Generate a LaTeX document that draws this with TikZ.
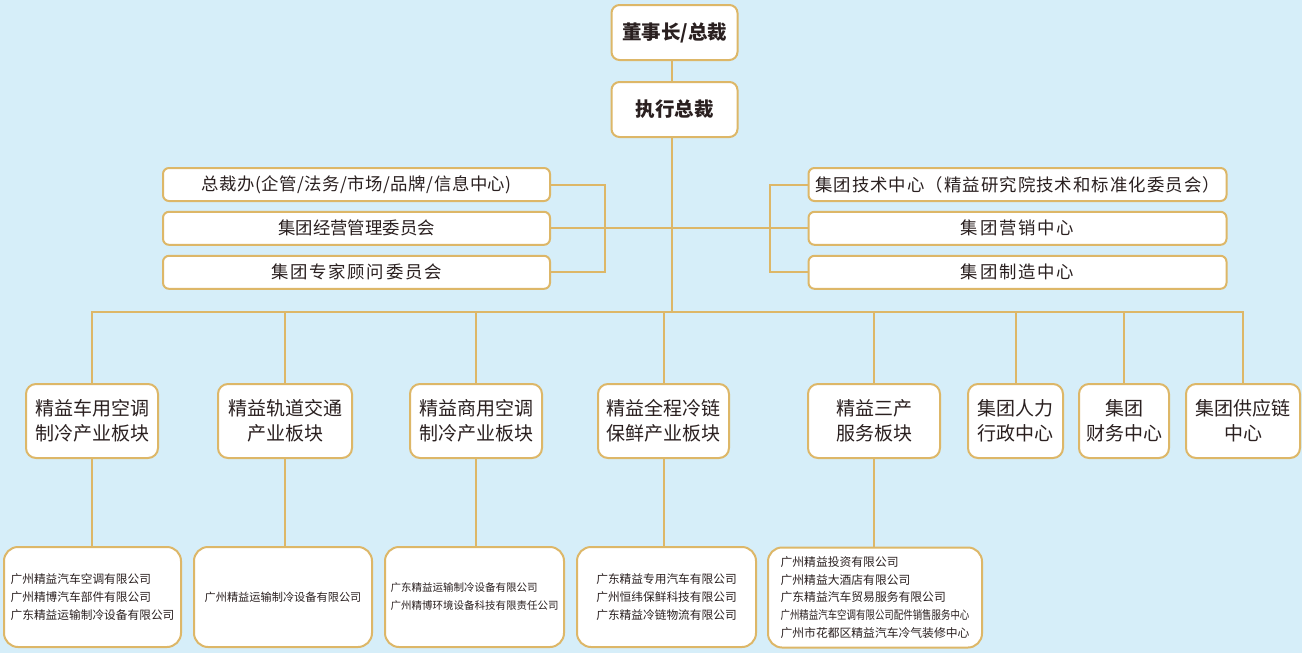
\documentclass[tikz,border=0pt]{standalone}
\usepackage{fontspec}
\usepackage{graphicx}
\setmainfont{Noto Sans CJK SC}
\definecolor{bg}{HTML}{D6EEF9}
\definecolor{gold}{HTML}{DDB768}
\definecolor{ink}{HTML}{2A2020}
\newcommand{\lsp}[2]{{\addfontfeature{LetterSpace=#1}#2}}
\begin{document}
\begin{tikzpicture}[x=1pt,y=-1pt,
  box/.style={draw=gold, line width=2pt, fill=white, inner sep=0pt, text=ink},
  topbox/.style={box, rounded corners=8pt, minimum width=126pt, minimum height=55pt, font=\fontsize{19.5}{23}\selectfont\bfseries},
  wide/.style={box, rounded corners=6pt, minimum height=33pt, font=\fontsize{17.4}{20}\selectfont},
  seg/.style={box, rounded corners=10pt, minimum height=74pt, align=center, font=\fontsize{19}{25}\selectfont},
  co/.style={box, rounded corners=14pt, minimum height=100pt, align=left, font=\fontsize{11.7}{18}\selectfont},
  link/.style={draw=gold, line width=2pt}]
\fill[bg] (0,0) rectangle (1302,653);
\useasboundingbox (0,0) rectangle (1302,653);

% top
\node[topbox] (chair) at (674.5,32.5) {董事长/总裁};
\node[topbox] (ceo) at (674.5,109.5) {执行总裁};

% left committees
\node[wide, minimum width=387pt] (l1) at (356.5,184.5) {\lsp{3}{总裁办(企管/法务/市场/品牌/信息中心)}};
\node[wide, minimum width=387pt] (l2) at (356.5,228.3) {集团经营管理委员会};
\node[wide, minimum width=387pt] (l3) at (356.5,272.3) {\lsp{10}{集团专家顾问委员会}};

% right centres
\node[wide, minimum width=418pt] (r1) at (1017.5,184.5) {\lsp{6}{集团技术中心（精益研究院技术和标准化委员会）}};
\node[wide, minimum width=418pt] (r2) at (1017.5,228.3) {\lsp{10}{集团营销中心}};
\node[wide, minimum width=418pt] (r3) at (1017.5,272.3) {\lsp{10}{集团制造中心}};

% segments
\node[seg, minimum width=132pt] (m1) at (92,421) {精益车用空调\\制冷产业板块};
\node[seg, minimum width=134pt] (m2) at (285,421) {精益轨道交通\\产业板块};
\node[seg, minimum width=132pt] (m3) at (476,421) {精益商用空调\\制冷产业板块};
\node[seg, minimum width=131pt] (m4) at (663.5,421) {精益全程冷链\\保鲜产业板块};
\node[seg, minimum width=132pt] (m5) at (874,421) {精益三产\\服务板块};
\node[seg, minimum width=95pt] (m6) at (1015.5,421) {集团人力\\行政中心};
\node[seg, minimum width=90pt] (m7) at (1124,421) {集团\\财务中心};
\node[seg, minimum width=114pt] (m8) at (1243,421) {集团供应链\\中心};

% companies
\node[co, minimum width=177pt] (c1) at (92.5,597) {广州精益汽车空调有限公司\\广州精博汽车部件有限公司\\广东精益运输制冷设备有限公司};
\node[co, minimum width=178pt, font=\fontsize{11.2}{18}\selectfont] (c2) at (283,597) {广州精益运输制冷设备有限公司};
\node[co, minimum width=179pt, font=\fontsize{10.5}{18}\selectfont] (c3) at (474.5,597) {广东精益运输制冷设备有限公司\\广州精博环境设备科技有限责任公司};
\node[co, minimum width=179pt] (c4) at (666.5,597) {广东精益专用汽车有限公司\\广州恒纬保鲜科技有限公司\\广东精益冷链物流有限公司};
\node[co, minimum width=214pt, font=\fontsize{11.8}{17.8}\selectfont] (c5) at (875,597.5) {广州精益投资有限公司\\广州精益大酒店有限公司\\广东精益汽车贸易服务有限公司\\\scalebox{0.8}[1]{广州精益汽车空调有限公司配件销售服务中心}\\广州市花都区精益汽车冷气装修中心};

% connectors
\coordinate (trunk) at (672,312);
\coordinate (lb) at (605,228.3);
\coordinate (rb) at (770,228.3);
\draw[link] (chair.south -| trunk) -- (ceo.north -| trunk);
\draw[link] (ceo.south -| trunk) -- (trunk);
\draw[link] (l1.east) -| (lb) |- (l3.east);
\draw[link] (l2.east) -- (r2.west);
\draw[link] (r1.west) -| (rb) |- (r3.west);
\foreach \m in {m1,m2,m3,m4,m5,m6,m7,m8}
  \draw[link] (\m.north) |- (trunk);
\draw[link] (m1.south) -- (m1.south |- c1.north);
\draw[link] (m2.south) -- (m2.south |- c2.north);
\draw[link] (m3.south) -- (m3.south |- c3.north);
\draw[link] (m4.south) -- (m4.south |- c4.north);
\draw[link] (m5.south) -- (m5.south |- c5.north);
\end{tikzpicture}
\end{document}
